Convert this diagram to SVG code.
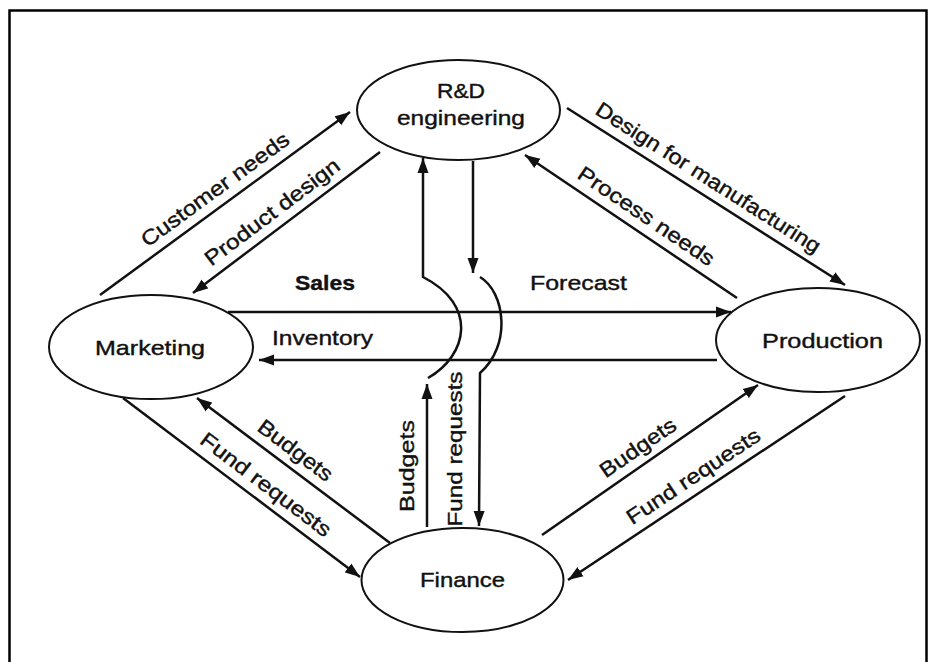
<svg xmlns="http://www.w3.org/2000/svg" width="936" height="662" viewBox="0 0 936 662">
<defs>
<marker id="ah" markerUnits="userSpaceOnUse" markerWidth="16" markerHeight="12" refX="15" refY="6" orient="auto">
<path d="M0,0.5 L15,6 L0,11.5 Z" fill="#111"/>
</marker>
<style>
.n{fill:#fff;stroke:#111;stroke-width:2}
.c{fill:none;stroke:#111;stroke-width:2.5}
.a{marker-end:url(#ah)}
text{font-family:"Liberation Sans",Arial,sans-serif;font-size:21px;fill:#111;stroke:#111;stroke-width:0.4;text-anchor:middle}
</style>
</defs>
<rect x="9.5" y="10.5" width="917" height="680" fill="#fff" stroke="#000" stroke-width="2.5"/>
<g id="connectors">
<path class="c a" d="M100,295 L350,112"/>
<path class="c a" d="M380,152 L193,293"/>
<path class="c a" d="M567,108 L845,285"/>
<path class="c a" d="M737,298 L525,155"/>
<path class="c a" d="M228,312 L731,312"/>
<path class="c a" d="M717,360 L259,360"/>
<path class="c a" d="M123,398 L360,577"/>
<path class="c a" d="M390,543 L197,398"/>
<path class="c a" d="M542,535 L758,385"/>
<path class="c a" d="M845,396 L568,580"/>
<path class="c a" d="M473,161 L473,273"/>
<path class="c a" d="M480,277 C505,292 512,345 480,373 L479,526"/>
<path class="c a" d="M427,527 L427,384"/>
<path class="c a" d="M428,378 C468,355 478,305 423,277 L423,158"/>
<g id="connector-labels">
<text transform="translate(219.3,195.2) rotate(-36.2)" textLength="178" lengthAdjust="spacingAndGlyphs">Customer needs</text>
<text transform="translate(276.4,217.6) rotate(-37)" textLength="163" lengthAdjust="spacingAndGlyphs">Product design</text>
<text transform="translate(704.4,183.7) rotate(32.5)" textLength="262" lengthAdjust="spacingAndGlyphs">Design for manufacturing</text>
<text transform="translate(642.3,222) rotate(34)" textLength="160" lengthAdjust="spacingAndGlyphs">Process needs</text>
<text x="325" y="290" font-weight="bold" textLength="60" lengthAdjust="spacingAndGlyphs">Sales</text>
<text x="578.5" y="290" textLength="97" lengthAdjust="spacingAndGlyphs">Forecast</text>
<text x="322.5" y="345" textLength="101" lengthAdjust="spacingAndGlyphs">Inventory</text>
<text transform="translate(291.1,456.1) rotate(36.9)" textLength="88" lengthAdjust="spacingAndGlyphs">Budgets</text>
<text transform="translate(261.6,490.2) rotate(37.1)" textLength="158" lengthAdjust="spacingAndGlyphs">Fund requests</text>
<text transform="translate(642,453.4) rotate(-34.8)" textLength="88" lengthAdjust="spacingAndGlyphs">Budgets</text>
<text transform="translate(697.3,482.2) rotate(-33.6)" textLength="156" lengthAdjust="spacingAndGlyphs">Fund requests</text>
<text transform="translate(414,466) rotate(-90)" textLength="92" lengthAdjust="spacingAndGlyphs">Budgets</text>
<text transform="translate(462,449) rotate(-90)" textLength="155" lengthAdjust="spacingAndGlyphs">Fund requests</text>
</g>
</g>
<g id="rd">
<ellipse class="n" cx="458.5" cy="110" rx="101.5" ry="50"/>
<text x="461" y="98" textLength="48" lengthAdjust="spacingAndGlyphs">R&amp;D</text>
<text x="461" y="125" textLength="128" lengthAdjust="spacingAndGlyphs">engineering</text>
</g>
<g id="marketing">
<ellipse class="n" cx="151" cy="347" rx="102" ry="52"/>
<text x="150" y="355" textLength="110" lengthAdjust="spacingAndGlyphs">Marketing</text>
</g>
<g id="production">
<ellipse class="n" cx="818" cy="340" rx="102" ry="52"/>
<text x="822.5" y="348" textLength="121" lengthAdjust="spacingAndGlyphs">Production</text>
</g>
<g id="finance">
<ellipse class="n" cx="462.5" cy="580" rx="101" ry="52"/>
<text x="462.5" y="587" textLength="85" lengthAdjust="spacingAndGlyphs">Finance</text>
</g>
</svg>
